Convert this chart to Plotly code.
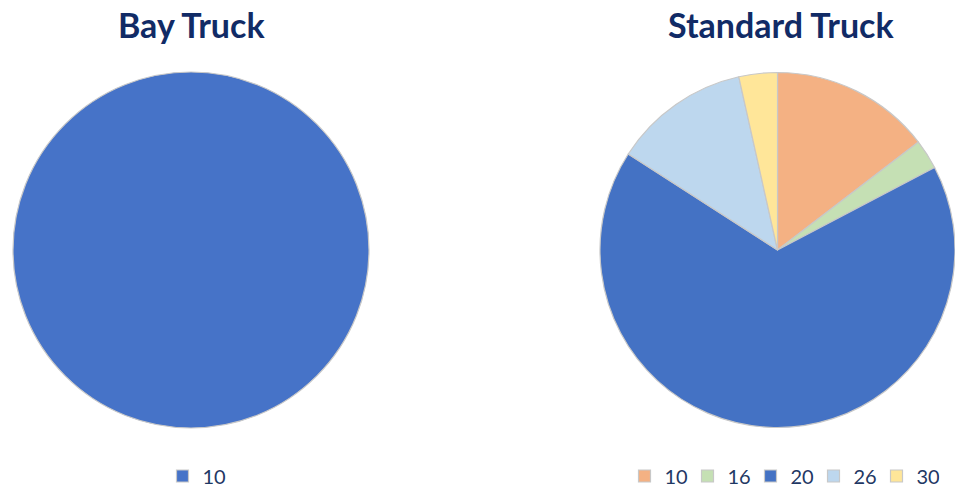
import plotly.graph_objects as go

bay_labels = ["10"]
bay_values = [100]
std_labels = ["10", "16", "20", "26", "30"]
std_values = [14.6, 2.7, 66.8, 12.4, 3.5]
titles = ["Bay Truck", "Standard Truck"]

bay_colors = ["#4673C8"]
std_colors = ["#F4B183", "#C5E0B4", "#4472C4", "#BDD7EE", "#FFE699"]

# Pie legends merge identical labels across traces; a zero-width suffix keeps them separate
std_legend_labels = [lab + "\u200b" for lab in std_labels]

W, H = 955, 489


def px(x):
    return x / W


def py(y):
    return 1 - y / H


fig = go.Figure()
fig.add_trace(go.Pie(
    labels=bay_labels, values=bay_values, sort=False, direction="clockwise",
    marker=dict(colors=bay_colors, line=dict(color="#C8C8C8", width=1.2)),
    textinfo="none", hoverinfo="label+percent",
    domain=dict(x=[px(13), px(369)], y=[py(428), py(72)]),
    legend="legend", showlegend=True,
))
fig.add_trace(go.Pie(
    labels=std_legend_labels, values=std_values, sort=False, direction="clockwise",
    marker=dict(colors=std_colors, line=dict(color="#C8C8C8", width=1.2)),
    textinfo="none", hoverinfo="label+percent",
    domain=dict(x=[px(600), px(955)], y=[py(428), py(72)]),
    legend="legend2", showlegend=True,
))

title_font = dict(family="Lato, Open Sans, sans-serif", size=34, color="#112B66")
legend_font = dict(family="Lato, Open Sans, sans-serif", size=20, color="#1F3864")
fig.update_layout(
    width=W, height=H,
    margin=dict(l=0, r=0, t=0, b=0, autoexpand=False),
    paper_bgcolor="white", plot_bgcolor="white",
    annotations=[
        dict(text="<b>%s</b>" % titles[0], x=px(191), y=py(24), xref="paper", yref="paper",
             showarrow=False, font=title_font, xanchor="center", yanchor="middle"),
        dict(text="<b>%s</b>" % titles[1], x=px(781), y=py(24), xref="paper", yref="paper",
             showarrow=False, font=title_font, xanchor="center", yanchor="middle"),
    ],
    legend=dict(orientation="h", x=px(197), y=py(476), xanchor="center", yanchor="middle",
                font=legend_font, bgcolor="rgba(0,0,0,0)"),
    legend2=dict(orientation="h", x=px(782), y=py(476), xanchor="center", yanchor="middle",
                 font=legend_font, bgcolor="rgba(0,0,0,0)", itemwidth=30,
                 entrywidth=18, entrywidthmode="pixels"),
)

fig.write_html("out.html", config={"displayModeBar": False},
               post_script="document.body.style.margin='0';")
